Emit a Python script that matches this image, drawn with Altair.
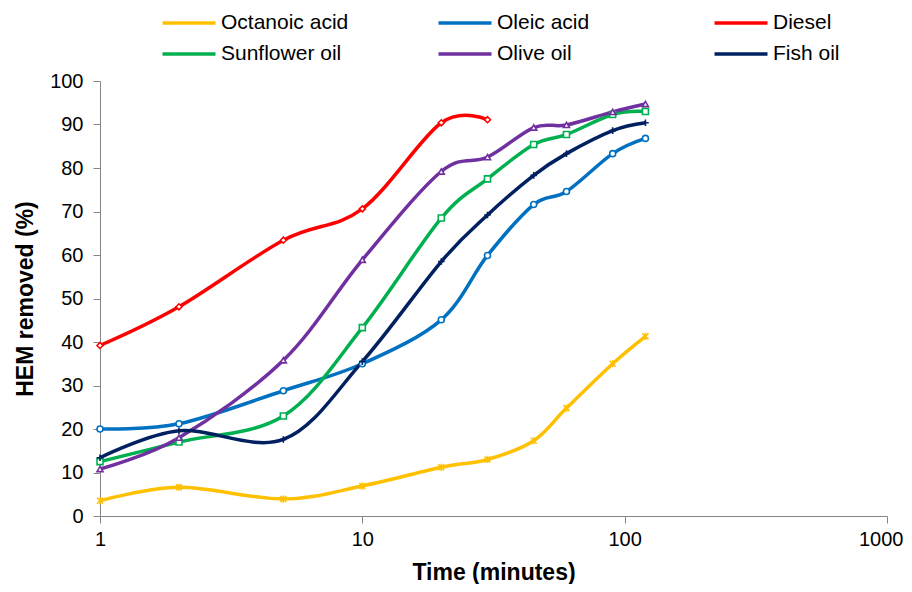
import altair as alt
import pandas as pd

times = [1, 2, 5, 10, 20, 30, 45, 60, 90, 120]
series_names = ["Octanoic acid", "Oleic acid", "Diesel", "Sunflower oil", "Olive oil", "Fish oil"]
octanoic = [3.5, 6.6, 3.9, 6.9, 11.2, 13.0, 17.3, 24.8, 35.0, 41.3]
oleic = [20.0, 21.2, 28.8, 35.0, 45.1, 59.9, 71.6, 74.6, 83.3, 86.8]
diesel = [39.2, 48.1, 63.4, 70.6, 90.4, 91.1]
sunflower = [12.5, 17.0, 23.0, 43.3, 68.5, 77.5, 85.4, 87.7, 92.3, 93.0]
olive = [10.8, 18.0, 35.8, 58.9, 79.2, 82.5, 89.3, 89.9, 92.9, 94.7]
fish = [13.4, 19.6, 17.6, 35.5, 58.5, 69.2, 78.3, 83.3, 88.6, 90.4]
colors = ["#FFC000", "#0070C0", "#FF0000", "#00B050", "#7030A0", "#002060"]
shapes = [
    "M-1,-1L1,1M-1,1L1,-1M0,-1.2L0,1.2",
    "circle",
    "diamond",
    "square",
    "triangle-up",
    "M-1.1,0L1.1,0M0,-1.1L0,1.1",
]

rows = []
for name, vals in zip(series_names, [octanoic, oleic, diesel, sunflower, olive, fish]):
    for t, v in zip(times, vals):
        rows.append({"Series": name, "Series2": name, "Time": t, "HEM": v})
df = pd.DataFrame(rows)

font = "Liberation Sans"

x = alt.X("Time:Q", scale=alt.Scale(type="log", domain=[1, 1000]),
          axis=alt.Axis(title="Time (minutes)", values=[1, 10, 100, 1000], format="d",
                        grid=False, tickSize=7, labelPadding=6, titlePadding=12,
                        labelOverlap=False, labelBound=False,
                        labelAlign=alt.condition("datum.value == 1000", alt.value("right"), alt.value("center")),
                        labelOffset=alt.condition("datum.value == 1000", alt.value(16), alt.value(0))))
y = alt.Y("HEM:Q", scale=alt.Scale(domain=[0, 100], nice=False),
          axis=alt.Axis(title="HEM removed (%)", values=list(range(0, 101, 10)),
                        grid=False, tickSize=7, labelPadding=10, titlePadding=12))

lines = alt.Chart(df).mark_line(interpolate="cardinal", strokeWidth=3.5).encode(
    x=x, y=y,
    color=alt.Color("Series:N", scale=alt.Scale(domain=series_names, range=colors),
                    legend=alt.Legend(
                        title=None, orient="none", legendX=74, legendY=-73, direction="horizontal",
                        columns=3, gridAlign="all", columnPadding=82, rowPadding=6,
                        symbolType="M-2,0H2", symbolSize=702, symbolStrokeWidth=3.5,
                        labelFontSize=21, labelFont=font, labelLimit=400,
                        labelOffset=17, symbolOffset=0, padding=0)),
    detail="Series:N",
)

points = alt.Chart(df).mark_point(filled=False, fill="white", size=36, strokeWidth=1.6, opacity=1).encode(
    x=x, y=y,
    stroke=alt.Stroke("Series2:N", sort=series_names, scale=alt.Scale(range=colors), legend=None),
    shape=alt.Shape("Series2:N", sort=series_names, scale=alt.Scale(range=shapes), legend=None),
)

chart = (lines + points).properties(
    width=787, height=435,
    autosize=alt.AutoSizeParams(type="none"),
    padding={"left": 92, "top": 73, "right": 17, "bottom": 68},
).configure_view(stroke=None).configure_axis(
    domainColor="#868686", tickColor="#868686", labelFont=font, titleFont=font,
    labelFontSize=20, titleFontSize=23, titleFontWeight="bold", labelColor="black",
    titleColor="black",
)

chart.save("out.html", embed_options={"renderer": "svg", "actions": False})
